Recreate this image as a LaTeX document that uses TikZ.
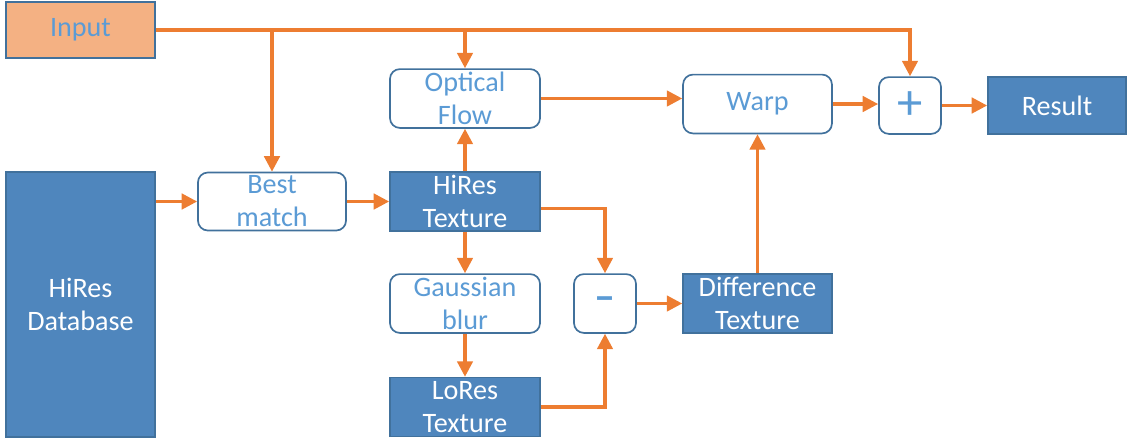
\documentclass[tikz,border=0pt]{standalone}
\usepackage{fontspec}
\setmainfont{Carlito}
\usepackage{xcolor}
\usetikzlibrary{arrows.meta,calc,positioning}

\definecolor{boxblue}{RGB}{79,134,189}
\definecolor{edgeblue}{RGB}{65,113,156}
\definecolor{textblue}{RGB}{91,155,213}
\definecolor{flow}{RGB}{237,125,49}
\definecolor{inputfill}{RGB}{244,177,131}

\tikzset{
  base/.style={draw=edgeblue,line width=1.2pt,align=center,inner sep=0pt,
    font=\fontsize{20}{23.5}\selectfont},
  datbox/.style={base,fill=boxblue,text=white},
  opbox/.style={base,fill=white,text=textblue,rounded corners=7pt},
  inbox/.style={base,fill=inputfill,text=textblue},
  wire/.style={flow,line width=2.3pt},
  arr/.style={wire,-{Triangle[length=11pt,width=11pt]}}
}

\begin{document}
\begin{tikzpicture}[x=0.025cm,y=-0.025cm]
\useasboundingbox (0,0) rectangle (1129,441);
% boxes
\node[inbox,minimum width=3.72cm,minimum height=1.4cm] (input) at (80.5,30) {Input};
\node[datbox,minimum width=3.72cm,minimum height=6.62cm] (db) at (80.5,304.5) {HiRes\\Database};
\node[opbox,minimum width=3.7cm,minimum height=1.45cm] (best) at (272,201.5) {Best\\match};
\node[datbox,minimum width=3.75cm,minimum height=1.47cm] (hires) at (465,201.5) {HiRes\\Texture};
\node[opbox,minimum width=3.75cm,minimum height=1.47cm] (optical) at (465,98.5) {Optical\\Flow};
\node[opbox,minimum width=3.75cm,minimum height=1.47cm] (gauss) at (465,303.5) {Gaussian\\blur};
\node[datbox,minimum width=3.75cm,minimum height=1.47cm] (lores) at (465,407) {LoRes\\Texture};
\node[opbox,minimum width=1.55cm,minimum height=1.47cm,font=\fontsize{30}{30}\selectfont\bfseries] (minus) at (605,303.5) {\textendash};
\node[datbox,minimum width=3.72cm,minimum height=1.47cm] (diff) at (757.5,303.5) {Difference\\Texture};
\node[opbox,minimum width=3.72cm,minimum height=1.47cm] (warp) at (757.5,104) {Warp};
\node[opbox,minimum width=1.55cm,minimum height=1.42cm,font=\fontsize{36}{36}\selectfont] (plus) at (910,105.5) {+};
\node[datbox,minimum width=3.45cm,minimum height=1.42cm] (result) at (1057,105.5) {Result};

% connectors
\draw[arr] (input.east) -| (plus.north);
\draw[arr] (input.east -| best.north) -- (best.north);
\draw[arr] (input.east -| optical.north) -- (optical.north);
\draw[arr] (db.east |- best.west) -- (best.west);
\draw[arr] (best.east) -- (hires.west);
\draw[arr] (hires.north) -- (optical.south);
\draw[arr] (hires.south) -- (gauss.north);
\draw[arr] ([yshift=-5pt]hires.east) -| (minus.north);
\draw[arr] (gauss.south) -- (lores.north);
\draw[arr] (lores.east) -| (minus.south);
\draw[arr] (minus.east) -- (diff.west);
\draw[arr] (diff.north) -- (warp.south);
\draw[arr] (optical.east) -- (optical.east -| warp.west);
\draw[arr] (warp.east) -- (warp.east -| plus.west);
\draw[arr] (plus.east) -- (result.west);
\end{tikzpicture}
\end{document}
